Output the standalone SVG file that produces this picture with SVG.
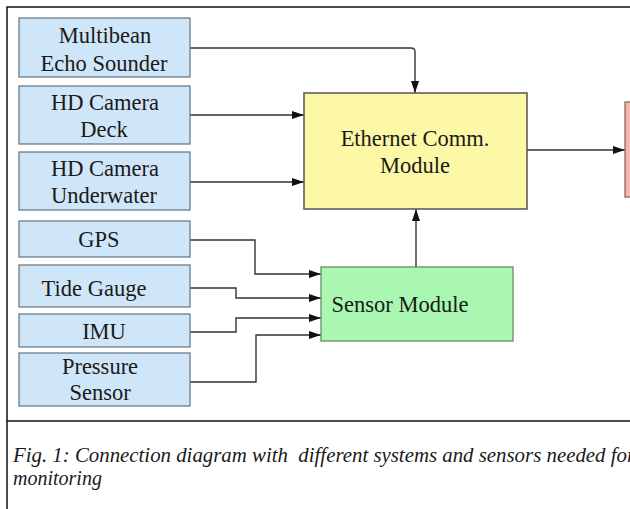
<svg xmlns="http://www.w3.org/2000/svg" width="630" height="509" viewBox="0 0 630 509">
  <style>
    .src { fill: #cfe6f8; stroke: #6b7d8c; stroke-width: 1.3; }
    .eth { fill: #fdf8a6; stroke: #555; stroke-width: 1.5; }
    .sen { fill: #a9f7b1; stroke: #6a8a6a; stroke-width: 1.3; }
    .out { fill: #f7b5ab; stroke: #8a6a66; stroke-width: 1.3; }
    .lbl { font-family: "Liberation Serif", "Times New Roman", serif; font-size: 22.5px; fill: #1a1a1a; text-anchor: middle; }
    .cap { font-family: "Liberation Serif", "Times New Roman", serif; font-size: 20px; font-style: italic; fill: #1a1a1a; }
    .wire { fill: none; stroke: #333; stroke-width: 1.4; }
    .frame { fill: none; stroke: #111; stroke-width: 1.5; }
  </style>
  <defs>
    <marker id="arrow" viewBox="0 0 12 8" refX="12" refY="4" markerWidth="12" markerHeight="8" markerUnits="userSpaceOnUse" orient="auto">
      <path d="M0,0 L12,4 L0,8 Z" fill="#111"/>
    </marker>
  </defs>

  <rect width="630" height="509" fill="#ffffff"/>

  <!-- page frame -->
  <path class="frame" d="M7,509 V7 H630"/>
  <path class="frame" d="M7,421 H630"/>

  <!-- connectors -->
  <g id="connectors">
    <path class="wire" d="M190,48 H411 Q415,48 415,52 V93" marker-end="url(#arrow)"/>
    <path class="wire" d="M190,115 H304" marker-end="url(#arrow)"/>
    <path class="wire" d="M190,182 H304" marker-end="url(#arrow)"/>
    <path class="wire" d="M527,150 H625" marker-end="url(#arrow)"/>
    <path class="wire" d="M416,267 V209" marker-end="url(#arrow)"/>
    <path class="wire" d="M190,240 H255 V274 H321" marker-end="url(#arrow)"/>
    <path class="wire" d="M190,288 H236 V298 H321" marker-end="url(#arrow)"/>
    <path class="wire" d="M190,332 H236 V318 H321" marker-end="url(#arrow)"/>
    <path class="wire" d="M190,382 H256 V335 H321" marker-end="url(#arrow)"/>
  </g>

  <g id="multibeam">
    <rect class="src" x="19" y="18" width="171" height="59"/>
    <text class="lbl" x="105" y="43">Multibean</text>
    <text class="lbl" x="104" y="71">Echo Sounder</text>
  </g>
  <g id="hd-camera-deck">
    <rect class="src" x="19" y="86" width="171" height="58"/>
    <text class="lbl" x="105" y="110">HD Camera</text>
    <text class="lbl" x="104" y="137">Deck</text>
  </g>
  <g id="hd-camera-underwater">
    <rect class="src" x="19" y="152" width="171" height="58"/>
    <text class="lbl" x="105" y="176">HD Camera</text>
    <text class="lbl" x="104" y="203">Underwater</text>
  </g>
  <g id="gps">
    <rect class="src" x="19" y="221" width="171" height="36"/>
    <text class="lbl" x="99" y="247">GPS</text>
  </g>
  <g id="tide-gauge">
    <rect class="src" x="19" y="265" width="171" height="42"/>
    <text class="lbl" x="94" y="296">Tide Gauge</text>
  </g>
  <g id="imu">
    <rect class="src" x="19" y="314" width="171" height="33"/>
    <text class="lbl" x="104" y="339">IMU</text>
  </g>
  <g id="pressure-sensor">
    <rect class="src" x="19" y="353" width="171" height="53"/>
    <text class="lbl" x="100" y="374">Pressure</text>
    <text class="lbl" x="100" y="400">Sensor</text>
  </g>

  <g id="ethernet-module">
    <rect class="eth" x="304" y="93" width="223" height="116"/>
    <text class="lbl" x="415" y="146">Ethernet Comm.</text>
    <text class="lbl" x="415" y="173">Module</text>
  </g>
  <g id="sensor-module">
    <rect class="sen" x="321" y="267" width="192" height="74"/>
    <text class="lbl" x="400" y="312">Sensor Module</text>
  </g>
  <g id="output-node">
    <rect class="out" x="625" y="102" width="20" height="95"/>
  </g>

  <g id="caption">
    <text class="cap" x="13" y="462" xml:space="preserve" textLength="622" lengthAdjust="spacingAndGlyphs">Fig. 1: Connection diagram with  different systems and sensors needed for</text>
    <text class="cap" x="13" y="485">monitoring</text>
  </g>
</svg>
